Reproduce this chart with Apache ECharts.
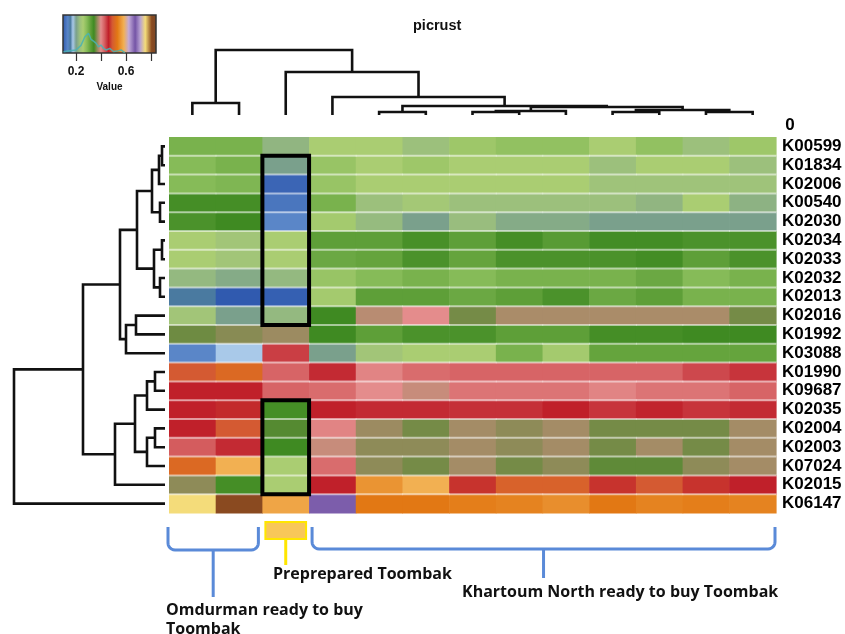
<!DOCTYPE html>
<html>
<head>
<meta charset="utf-8">
<script src="https://cdn.jsdelivr.net/npm/echarts@6/dist/echarts.min.js"></script>
<style>
  html, body { margin: 0; padding: 0; background: #fff; }
  #chart { width: 845px; height: 634px; }
</style>
</head>
<body>
<div id="chart"></div>
<script>
// KEGG orthologues (rows, top to bottom in dendrogram order)
const rowLabels = ['K00599','K01834','K02006','K00540','K02030','K02034','K02033','K02032','K02013','K02016',
                   'K01992','K03088','K01990','K09687','K02035','K02004','K02003','K07024','K02015','K06147'];

// samples (columns, left to right in dendrogram order)
const sampleIds = ['OM1','OM2','PP1','KN1','KN2','KN3','KN4','KN5','KN6','KN7','KN8','KN9','KN10'];
const sampleGroups = ['Omdurman','Omdurman','Preprepared','Khartoum North','Khartoum North','Khartoum North',
                      'Khartoum North','Khartoum North','Khartoum North','Khartoum North','Khartoum North',
                      'Khartoum North','Khartoum North'];

// relative abundance values, one list per row
const cellValues = [
  [0.30, 0.30, 0.225, 0.26, 0.26, 0.235, 0.27, 0.28, 0.28, 0.26, 0.28, 0.235, 0.27],
  [0.29, 0.30, 0.205, 0.275, 0.26, 0.27, 0.26, 0.26, 0.26, 0.235, 0.26, 0.26, 0.235],
  [0.29, 0.295, 0.11, 0.275, 0.26, 0.26, 0.26, 0.26, 0.26, 0.24, 0.24, 0.24, 0.24],
  [0.34, 0.34, 0.125, 0.30, 0.235, 0.25, 0.235, 0.235, 0.235, 0.235, 0.225, 0.26, 0.222],
  [0.335, 0.345, 0.14, 0.265, 0.23, 0.205, 0.232, 0.215, 0.215, 0.205, 0.205, 0.205, 0.205],
  [0.26, 0.245, 0.26, 0.32, 0.32, 0.338, 0.32, 0.34, 0.325, 0.342, 0.342, 0.335, 0.335],
  [0.26, 0.245, 0.26, 0.31, 0.315, 0.335, 0.315, 0.335, 0.335, 0.335, 0.342, 0.32, 0.335],
  [0.228, 0.215, 0.228, 0.275, 0.29, 0.30, 0.29, 0.30, 0.30, 0.30, 0.31, 0.29, 0.30],
  [0.16, 0.10, 0.105, 0.265, 0.32, 0.32, 0.31, 0.32, 0.335, 0.31, 0.32, 0.30, 0.30],
  [0.245, 0.205, 0.228, 0.345, 0.385, 0.40, 0.362, 0.38, 0.38, 0.38, 0.38, 0.38, 0.362],
  [0.36, 0.368, 0.375, 0.345, 0.32, 0.335, 0.335, 0.32, 0.32, 0.34, 0.34, 0.345, 0.345],
  [0.14, 0.18, 0.445, 0.205, 0.245, 0.26, 0.26, 0.30, 0.265, 0.315, 0.315, 0.315, 0.315],
  [0.49, 0.51, 0.425, 0.455, 0.405, 0.42, 0.425, 0.425, 0.425, 0.425, 0.425, 0.44, 0.45],
  [0.46, 0.46, 0.425, 0.42, 0.40, 0.39, 0.415, 0.415, 0.415, 0.405, 0.415, 0.415, 0.425],
  [0.46, 0.465, 0.34, 0.46, 0.455, 0.455, 0.452, 0.452, 0.46, 0.45, 0.458, 0.45, 0.455],
  [0.46, 0.49, 0.352, 0.405, 0.375, 0.362, 0.378, 0.37, 0.378, 0.362, 0.362, 0.362, 0.378],
  [0.43, 0.455, 0.345, 0.39, 0.37, 0.37, 0.378, 0.37, 0.378, 0.362, 0.378, 0.362, 0.378],
  [0.51, 0.58, 0.26, 0.42, 0.37, 0.362, 0.378, 0.362, 0.37, 0.355, 0.355, 0.37, 0.378],
  [0.37, 0.34, 0.26, 0.46, 0.555, 0.58, 0.47, 0.50, 0.50, 0.47, 0.49, 0.47, 0.46],
  [0.75, 0.80, 0.57, 0.665, 0.53, 0.53, 0.535, 0.54, 0.55, 0.53, 0.54, 0.535, 0.54]
];

// hierarchical clustering of rows: merge pairs (negative = leaf number) and merge heights
const rowMerges = [[-1,-2],[1,-3],[-4,-5],[2,3],[-6,-7],[-8,-9],[5,6],[4,7],[-10,-11],[9,-12],[8,10],
                   [-13,-14],[12,-15],[-16,-17],[14,-18],[13,15],[16,-19],[11,17],[18,-20]];
const rowHeights = [0.03, 0.06, 0.05, 0.13, 0.03, 0.05, 0.11, 0.28, 0.29, 0.39, 0.45,
                    0.10, 0.18, 0.10, 0.18, 0.30, 0.50, 0.82, 1.51];

// hierarchical clustering of samples
const colMerges = [[-1,-2],[-5,-6],[-7,-8],[3,-9],[-10,-11],[-12,-13],[5,6],[4,7],[2,8],[-4,9],[-3,10],[1,11]];
const colHeights = [12, 3, 3, 4, 3, 3, 5, 8, 9, 18, 43, 65];

// colour key: value stops and colours
const keyRange = [0.096, 0.84];
const keyStops = [0.096, 0.14, 0.16, 0.18, 0.205, 0.235, 0.26, 0.29, 0.32, 0.345, 0.37, 0.385, 0.40,
                  0.43, 0.46, 0.49, 0.53, 0.58, 0.62, 0.67, 0.71, 0.75, 0.80, 0.84];
const keyColors = ['#2c56ac','#5a86c8','#4a7aa0','#a9c9e9','#7aa08c','#9cc07c','#aacd72','#86bb58',
                   '#5e9f38','#3f8a22','#8e8b58','#b88c72','#e48c8c','#d45c5e','#c0202a','#d45a32',
                   '#e27814','#f2b052','#c2aad8','#7454a6','#b8a2d2','#f4dc7a','#8a4a20','#7a4828'];
const keyTicks = [0.2, 0.4, 0.6, 0.8];
const keyLabels = [0.2, 0.6];

// density trace of values shown inside the colour key
const densityX = [0.10, 0.15, 0.20, 0.24, 0.27, 0.28, 0.30, 0.31, 0.32, 0.34, 0.36, 0.38, 0.40, 0.42, 0.44, 0.47, 0.50, 0.53, 0.56, 0.59];
const densityY = [0.03, 0.06, 0.08, 0.20, 0.42, 0.47, 0.52, 0.56, 0.36, 0.31, 0.26, 0.16, 0.21, 0.12, 0.08, 0.12, 0.04, 0.05, 0.08, 0.01];

// framed blocks: [column, first row, last row]
const highlightBoxes = [[2, 1, 9], [2, 14, 18]];

// ---------- helpers ----------
function hexToRgb(h) {
  const n = parseInt(h.slice(1), 16);
  return [(n >> 16) & 255, (n >> 8) & 255, n & 255];
}
const keyRgb = keyColors.map(hexToRgb);
function colorFor(v) {
  if (v <= keyStops[0]) return keyColors[0];
  for (let i = 0; i < keyStops.length - 1; i++) {
    if (v <= keyStops[i + 1]) {
      const t = (v - keyStops[i]) / (keyStops[i + 1] - keyStops[i]);
      const a = keyRgb[i], b = keyRgb[i + 1];
      const c = a.map((x, k) => Math.round(x + (b[k] - x) * t));
      return 'rgb(' + c.join(',') + ')';
    }
  }
  return keyColors[keyColors.length - 1];
}

// turn merge list into bracket polylines [leafPosition, height]
function dendroSegments(merges, heights) {
  const pos = [];
  const node = id => id < 0 ? [-id - 1, 0] : [pos[id - 1], heights[id - 1]];
  return merges.map(([a, b], i) => {
    const [pa, ha] = node(a), [pb, hb] = node(b);
    const h = heights[i];
    pos[i] = (pa + pb) / 2;
    return [[pa, ha], [pa, h], [pb, h], [pb, hb]];
  });
}

const nCols = sampleIds.length, nRows = rowLabels.length;
const heatData = [];
cellValues.forEach((row, r) => row.forEach((v, c) => heatData.push([c, r, v])));
const colSegs = dendroSegments(colMerges, colHeights);
const rowSegs = dendroSegments(rowMerges, rowHeights);

const chart = echarts.init(document.getElementById('chart'));
const labelFont = 'Liberation Sans, Arial, sans-serif';

const option = {
  animation: false,
  title: {
    text: 'picrust', left: 408, top: 13,
    textStyle: { fontFamily: labelFont, fontWeight: 'bold', fontSize: 14.5, color: '#111' }
  },
  grid: [
    { left: 169, right: 69, top: 137, height: 376 },
    { left: 169, right: 69, top: 40, height: 75 },
    { left: 5, width: 160, top: 137, height: 376 },
    { left: 63, width: 93, top: 15, height: 38 }
  ],
  xAxis: [
    { gridIndex: 0, type: 'category', data: sampleIds, show: false },
    { gridIndex: 1, type: 'value', min: -0.5, max: nCols - 0.5, show: false },
    { gridIndex: 2, type: 'value', min: 0, max: 1.6, inverse: true, show: false },
    {
      gridIndex: 3, type: 'value', min: keyRange[0], max: keyRange[1],
      axisLine: { show: false }, splitLine: { show: false },
      axisTick: { show: true, customValues: keyTicks, length: 8, lineStyle: { color: '#333', width: 1.2 } },
      axisLabel: {
        customValues: keyLabels, margin: 13, formatter: v => Number(v).toFixed(1),
        fontFamily: labelFont, fontWeight: 'bold', fontSize: 12, color: '#111'
      },
      name: 'Value', nameLocation: 'middle', nameGap: 29,
      nameTextStyle: { fontFamily: labelFont, fontWeight: 'bold', fontSize: 10, color: '#111' }
    }
  ],
  yAxis: [
    {
      gridIndex: 0, type: 'category', data: rowLabels, inverse: true, position: 'right',
      axisLine: { show: false }, axisTick: { show: false }, splitLine: { show: false },
      axisLabel: { interval: 0, margin: 6, fontFamily: labelFont, fontWeight: 'bold', fontSize: 17, color: '#000' }
    },
    { gridIndex: 1, type: 'value', min: 0, max: 75, show: false },
    { gridIndex: 2, type: 'value', min: -0.5, max: nRows - 0.5, inverse: true, show: false },
    { gridIndex: 3, type: 'value', min: 0, max: 1, show: false }
  ],
  series: [
    {
      // heatmap cells with thin pale row separators
      type: 'custom', xAxisIndex: 0, yAxisIndex: 0, data: heatData,
      renderItem: (params, api) => {
        const c = api.value(0), r = api.value(1), v = api.value(2);
        const p = api.coord([c, r]);
        const s = api.size([1, 1]);
        const x0 = p[0] - s[0] / 2, y0 = p[1] - s[1] / 2;
        const children = [{
          type: 'rect',
          shape: { x: x0, y: y0, width: s[0] + 0.6, height: s[1] + 0.6 },
          style: { fill: colorFor(v) }
        }];
        if (r > 0) {
          children.push({
            type: 'line', z2: 5,
            shape: { x1: x0, y1: y0, x2: x0 + s[0] + 0.6, y2: y0 },
            style: { stroke: 'rgba(255,255,255,0.55)', lineWidth: 2 }
          });
        }
        return { type: 'group', children };
      }
    },
    {
      // black frames around selected blocks
      type: 'custom', xAxisIndex: 0, yAxisIndex: 0, data: highlightBoxes, z: 5,
      renderItem: (params, api) => {
        const c = api.value(0), r0 = api.value(1), r1 = api.value(2);
        const a = api.coord([c, r0]), b = api.coord([c, r1]);
        const s = api.size([1, 1]);
        return {
          type: 'rect',
          shape: { x: a[0] - s[0] / 2, y: a[1] - s[1] / 2, width: s[0], height: b[1] - a[1] + s[1] },
          style: { fill: 'none', stroke: '#000', lineWidth: 4 }
        };
      }
    },
    {
      // sample dendrogram
      type: 'custom', xAxisIndex: 1, yAxisIndex: 1, data: colSegs.map((s, i) => [i]),
      renderItem: (params, api) => ({
        type: 'polyline',
        shape: { points: colSegs[params.dataIndex].map(p => api.coord(p)) },
        style: { stroke: '#111', lineWidth: 2.6, fill: null }
      })
    },
    {
      // KO dendrogram
      type: 'custom', xAxisIndex: 2, yAxisIndex: 2, data: rowSegs.map((s, i) => [i]),
      renderItem: (params, api) => ({
        type: 'polyline',
        shape: { points: rowSegs[params.dataIndex].map(p => api.coord([p[1], p[0]])) },
        style: { stroke: '#111', lineWidth: 2.6, fill: null }
      })
    },
    {
      // colour key gradient
      type: 'custom', xAxisIndex: 3, yAxisIndex: 3, data: [[keyRange[0], keyRange[1]]],
      renderItem: (params, api) => {
        const a = api.coord([api.value(0), 1]), b = api.coord([api.value(1), 0]);
        const span = keyRange[1] - keyRange[0];
        const stops = keyStops.map((v, i) => ({ offset: (v - keyRange[0]) / span, color: keyColors[i] }));
        return {
          type: 'rect',
          shape: { x: a[0], y: a[1], width: b[0] - a[0], height: b[1] - a[1] },
          style: {
            fill: new echarts.graphic.LinearGradient(0, 0, 1, 0, stops),
            stroke: '#333', lineWidth: 1.5
          }
        };
      }
    },
    {
      // density trace
      type: 'line', xAxisIndex: 3, yAxisIndex: 3, z: 4,
      data: densityX.map((x, i) => [x, densityY[i]]),
      showSymbol: false, symbol: 'none',
      lineStyle: { color: '#49b3b3', width: 1.5, opacity: 0.85 }
    }
  ]
};
chart.setOption(option);

// group annotations under the heatmap
const colX = i => chart.convertToPixel({ xAxisIndex: 0 }, i);
const band = colX(1) - colX(0);
function spanOf(group) {
  const idx = sampleGroups.map((g, i) => g === group ? i : -1).filter(i => i >= 0);
  return [colX(idx[0]) - band / 2, colX(idx[idx.length - 1]) + band / 2];
}
// curly bracket: two rounded outer legs, a bar and a central stem
function brace(x1, x2, yTop, yMid, yStem, color) {
  const r = 7, xc = (x1 + x2) / 2;
  const arc = (cx, cy, a0, a1) => {
    const pts = [];
    for (let k = 0; k <= 6; k++) {
      const a = a0 + (a1 - a0) * k / 6;
      pts.push([cx + r * Math.cos(a), cy + r * Math.sin(a)]);
    }
    return pts;
  };
  const pts = [[x1, yTop]]
    .concat(arc(x1 + r, yMid - r, Math.PI, Math.PI / 2))
    .concat(arc(x2 - r, yMid - r, Math.PI / 2, 0))
    .concat([[x2, yTop]]);
  const style = { fill: null, stroke: color, lineWidth: 3 };
  return [
    { type: 'polyline', shape: { points: pts }, style },
    { type: 'line', shape: { x1: xc, y1: yMid, x2: xc, y2: yStem }, style }
  ];
}
const om = spanOf('Omdurman'), pp = spanOf('Preprepared'), kn = spanOf('Khartoum North');
const noteFont = { fontFamily: 'Open Sans, sans-serif', fontWeight: 'bold', fontSize: 16, fill: '#111' };
chart.setOption({
  graphic: [].concat(
    brace(om[0] - 1, om[1] - 4, 527, 550, 597, '#5a8ad8'),
    brace(kn[0] + 3, kn[1] - 1, 527, 549, 578, '#5a8ad8'),
    [
      {
        type: 'rect',
        shape: { x: pp[0] + 3, y: 522, width: pp[1] - pp[0] - 6, height: 17 },
        style: { fill: '#f8c75a', stroke: '#ffe600', lineWidth: 2 }
      },
      {
        type: 'line',
        shape: { x1: (pp[0] + pp[1]) / 2, y1: 539, x2: (pp[0] + pp[1]) / 2, y2: 565 },
        style: { stroke: '#ffe600', lineWidth: 3 }
      },
      { type: 'text', x: 273, y: 574, style: Object.assign({ text: 'Preprepared Toombak', verticalAlign: 'middle' }, noteFont) },
      { type: 'text', x: 462, y: 592, style: Object.assign({ text: 'Khartoum North ready to buy Toombak', verticalAlign: 'middle' }, noteFont) },
      { type: 'text', x: 166, y: 610, style: Object.assign({ text: 'Omdurman ready to buy', verticalAlign: 'middle' }, noteFont) },
      { type: 'text', x: 166, y: 629, style: Object.assign({ text: 'Toombak', verticalAlign: 'middle' }, noteFont) },
      {
        type: 'text', x: 790, y: 125,
        style: { text: '0', align: 'center', verticalAlign: 'middle', fontFamily: labelFont, fontWeight: 'bold', fontSize: 17, fill: '#000' }
      }
    ]
  )
});
</script>
</body>
</html>
